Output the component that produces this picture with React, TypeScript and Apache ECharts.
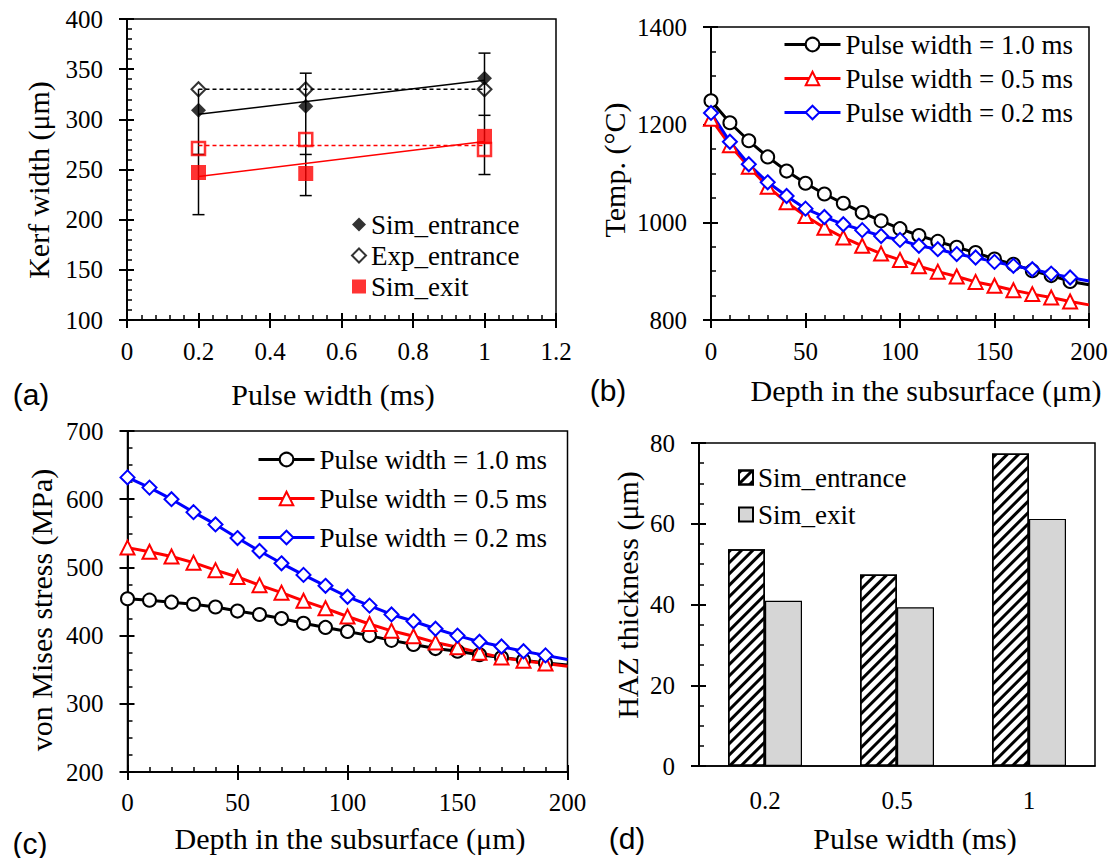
import React, { useEffect, useRef } from 'react';
import * as echarts from 'echarts';

// ---------- (a) Kerf width ----------
const pulseX = [0.2, 0.5, 1];
const simEntrance = [309, 313, 341];
const expEntrance = [330, 330, 330];
const simExit = [247, 246, 283];
const expExit = [271, 280, 270];
const fitX = [0.2, 1];
const simEntranceFit = [305, 339];
const expEntranceFit = [330, 330];
const simExitFit = [243, 278];
const expExitFit = [274, 274];
const errLow = [205, 224, 245];
const errHigh = [330, 346, 366];
const errCapX = [0.2, 0.2, 0.5, 0.5, 0.5, 1, 1, 1];
const errCapY = [205, 265, 224, 265, 346, 245, 304, 366];

// ---------- (b) Temperature ----------
const depth = [0, 10, 20, 30, 40, 50, 60, 70, 80, 90, 100, 110, 120, 130, 140, 150, 160, 170, 180, 190, 200];
const temp10 = [1249, 1204, 1167, 1134, 1105, 1080, 1058, 1039, 1020, 1003, 987, 973, 961, 949, 938, 925, 914, 901, 891, 879, 872];
const temp05 = [1212, 1158, 1114, 1073, 1041, 1013, 989, 969, 952, 936, 923, 910, 899, 889, 878, 870, 861, 853, 846, 838, 831];
const temp02 = [1224, 1165, 1119, 1082, 1054, 1028, 1011, 996, 984, 972, 964, 952, 945, 935, 928, 919, 911, 904, 895, 887, 880];

// ---------- (c) von Mises stress ----------
const stress10 = [454, 452, 449, 446, 442, 436, 431, 425, 418, 412, 406, 400, 393, 387, 381, 377, 372, 368, 364, 360, 357];
const stress05 = [529, 523, 516, 507, 496, 486, 474, 463, 451, 440, 428, 417, 407, 399, 390, 383, 375, 368, 363, 359, 355];
const stress02 = [632, 617, 600, 581, 563, 543, 524, 506, 489, 473, 457, 444, 431, 421, 410, 400, 391, 384, 377, 371, 365];

// ---------- (d) HAZ thickness ----------
const hazCats = ['0.2', '0.5', '1'];
const hazEntrance = [53.7, 47.4, 77.4];
const hazExit = [40.9, 39.3, 61.2];

const legendNames = ['Pulse width = 1.0 ms', 'Pulse width = 0.5 ms', 'Pulse width = 0.2 ms'];

const SERIF = 'Liberation Serif';
const SANS = 'Liberation Sans';

// main axis: labels, axis line and outward major ticks
function mainAxis(gridIndex: number, min: number, max: number, interval: number, position: string, margin: number) {
  return {
    type: 'value', gridIndex, min, max, interval, position,
    axisLine: { show: true, onZero: false, lineStyle: { color: '#000', width: 1.5 } },
    axisTick: { show: true, inside: false, length: 8, lineStyle: { color: '#000', width: 2 } },
    minorTick: { show: false },
    splitLine: { show: false },
    axisLabel: { show: true, margin, color: '#000', fontFamily: SERIF, fontSize: 25, formatter: (v: number) => String(v) },
  };
}
// overlay axis on the same side: inward major + minor ticks only
function overlayAxis(gridIndex: number, min: number, max: number, interval: number, position: string, minorSplit: number) {
  return {
    type: 'value', gridIndex, min, max, interval, position, offset: 0,
    axisLine: { show: true, onZero: false, lineStyle: { color: '#000', width: 1.5 } },
    axisTick: { show: true, inside: true, length: 7, lineStyle: { color: '#000', width: 2 } },
    minorTick: { show: true, splitNumber: minorSplit, length: 5, lineStyle: { color: '#000', width: 1.5 } },
    splitLine: { show: false },
    minorSplitLine: { show: false },
    axisLabel: { show: false },
  };
}

function curve(vals: number[]) {
  return depth.map((d, i) => (i === depth.length - 1 ? { value: [d, vals[i]], symbol: 'none' } : [d, vals[i]]));
}

function lineSeries(name: string, vals: number[], color: string, symbol: string, size: number, xi: number, yi: number) {
  return {
    name, type: 'line', xAxisIndex: xi, yAxisIndex: yi,
    data: curve(vals), symbol, symbolSize: size, showAllSymbol: true,
    itemStyle: { color, borderWidth: 1.5 },
    lineStyle: { color, width: 3 },
    z: 3,
  };
}

function txt(text: string, x: number, y: number, size: number, family: string, rotation = 0) {
  return {
    type: 'text', x, y, rotation, silent: true,
    style: { text, font: `${size}px "${family}"`, fill: '#000', align: 'center', verticalAlign: 'middle' },
  };
}

const gridBox = { show: true, borderColor: '#000', borderWidth: 1.5, backgroundColor: 'transparent', containLabel: false };
const legendText = { fontFamily: SERIF, fontSize: 27, color: '#000' };

export default function App() {
  const ref = useRef<HTMLDivElement>(null);
  useEffect(() => {
    const chart = echarts.init(ref.current!, null, { renderer: 'svg' });
    const errLines = pulseX.map((x, i) => [x, errLow[i], errHigh[i]]);
    const errCaps = errCapX.map((x, i) => [x, errCapY[i]]);

    const option: any = {
      animation: false,
      grid: [
        { ...gridBox, left: 127, top: 19, width: 429, height: 301 },
        { ...gridBox, left: 711, top: 27, width: 378, height: 293 },
        { ...gridBox, left: 127.5, top: 431, width: 440, height: 341 },
        { ...gridBox, left: 699, top: 443, width: 396, height: 323 },
      ],
      xAxis: [
        mainAxis(0, 0, 1.2, 0.2, 'bottom', 19),
        mainAxis(1, 0, 200, 50, 'bottom', 19),
        mainAxis(2, 0, 200, 50, 'bottom', 18),
        {
          type: 'category', gridIndex: 3, data: hazCats, position: 'bottom',
          axisLine: { show: true, onZero: false, lineStyle: { color: '#000', width: 1.5 } },
          axisTick: { show: false },
          axisLabel: { margin: 22, color: '#000', fontFamily: SERIF, fontSize: 25 },
          splitLine: { show: false },
        },
        overlayAxis(0, 0, 1.2, 0.2, 'bottom', 5),
        overlayAxis(1, 0, 200, 50, 'bottom', 5),
        overlayAxis(2, 0, 200, 50, 'bottom', 5),
      ],
      yAxis: [
        mainAxis(0, 100, 400, 50, 'left', 24),
        mainAxis(1, 800, 1400, 200, 'left', 24),
        mainAxis(2, 200, 700, 100, 'left', 24),
        mainAxis(3, 0, 80, 20, 'left', 24),
        overlayAxis(0, 100, 400, 50, 'left', 5),
        overlayAxis(1, 800, 1400, 200, 'left', 4),
        overlayAxis(2, 200, 700, 100, 'left', 4),
        overlayAxis(3, 0, 80, 20, 'left', 4),
      ],
      legend: [
        {
          data: ['Sim_entrance', 'Exp_entrance', 'Sim_exit'], orient: 'vertical', left: 351, top: 211, padding: 0,
          itemWidth: 14, itemHeight: 14, itemGap: 4, selectedMode: false, textStyle: legendText,
        },
        {
          data: legendNames, orient: 'vertical', left: 783, top: 31, padding: 0,
          itemWidth: 56, itemHeight: 17, itemGap: 7, selectedMode: false, textStyle: legendText,
          lineStyle: { width: 3 },
        },
        {
          data: legendNames.map((n) => n + ' '), orient: 'vertical', left: 257, top: 446, padding: 0,
          itemWidth: 56, itemHeight: 17, itemGap: 12, selectedMode: false, textStyle: legendText,
          lineStyle: { width: 3 },
        },
        {
          data: ['HAZ_Sim_entrance', 'HAZ_Sim_exit'], orient: 'vertical', left: 738, top: 464, padding: 0,
          itemWidth: 14, itemHeight: 14, itemGap: 10, selectedMode: false, icon: 'rect',
          formatter: (n: string) => n.replace('HAZ_', ''), textStyle: legendText,
        },
      ],
      series: [
        // ---- (a)
        {
          type: 'custom', xAxisIndex: 0, yAxisIndex: 0, data: errLines, silent: true, z: 1,
          renderItem: (p: any, api: any) => {
            const a = api.coord([api.value(0), api.value(1)]);
            const b = api.coord([api.value(0), api.value(2)]);
            return { type: 'line', shape: { x1: a[0], y1: a[1], x2: b[0], y2: b[1] }, style: { stroke: '#000', lineWidth: 1.5 } };
          },
        },
        {
          type: 'custom', xAxisIndex: 0, yAxisIndex: 0, data: errCaps, silent: true, z: 1,
          renderItem: (p: any, api: any) => {
            const a = api.coord([api.value(0), api.value(1)]);
            return { type: 'line', shape: { x1: a[0] - 6, y1: a[1], x2: a[0] + 6, y2: a[1] }, style: { stroke: '#000', lineWidth: 1.5 } };
          },
        },
        { type: 'line', xAxisIndex: 0, yAxisIndex: 0, symbol: 'none', silent: true, z: 2, data: fitX.map((x, i) => [x, simEntranceFit[i]]), lineStyle: { color: '#000', width: 1.5 } },
        { type: 'line', xAxisIndex: 0, yAxisIndex: 0, symbol: 'none', silent: true, z: 2, data: fitX.map((x, i) => [x, expEntranceFit[i]]), lineStyle: { color: '#000', width: 1.5, type: [4, 3] } },
        { type: 'line', xAxisIndex: 0, yAxisIndex: 0, symbol: 'none', silent: true, z: 2, data: fitX.map((x, i) => [x, simExitFit[i]]), lineStyle: { color: '#ff0000', width: 1.5 } },
        { type: 'line', xAxisIndex: 0, yAxisIndex: 0, symbol: 'none', silent: true, z: 2, data: fitX.map((x, i) => [x, expExitFit[i]]), lineStyle: { color: '#ff0000', width: 1.5, type: [4, 3] } },
        { name: 'Sim_entrance', type: 'scatter', xAxisIndex: 0, yAxisIndex: 0, z: 3, symbol: 'diamond', symbolSize: 15, data: pulseX.map((x, i) => [x, simEntrance[i]]), itemStyle: { color: '#000' } },
        { name: 'Exp_entrance', type: 'scatter', xAxisIndex: 0, yAxisIndex: 0, z: 3, symbol: 'diamond', symbolSize: 14, data: pulseX.map((x, i) => [x, expEntrance[i]]), itemStyle: { color: 'rgba(255,255,255,0)', borderColor: '#000', borderWidth: 2 } },
        { name: 'Sim_exit', type: 'scatter', xAxisIndex: 0, yAxisIndex: 0, z: 3, symbol: 'rect', symbolSize: 15, data: pulseX.map((x, i) => [x, simExit[i]]), itemStyle: { color: '#ff0000' } },
        { name: 'Exp_exit', type: 'scatter', xAxisIndex: 0, yAxisIndex: 0, z: 3, symbol: 'rect', symbolSize: 13, data: pulseX.map((x, i) => [x, expExit[i]]), itemStyle: { color: 'rgba(255,255,255,0)', borderColor: '#ff0000', borderWidth: 2.5 } },
        // ---- (b)
        lineSeries(legendNames[0], temp10, '#000000', 'emptyCircle', 13, 1, 1),
        lineSeries(legendNames[1], temp05, '#ff0000', 'emptyTriangle', 14, 1, 1),
        lineSeries(legendNames[2], temp02, '#0000ff', 'emptyDiamond', 14, 1, 1),
        // ---- (c)
        lineSeries(legendNames[0] + ' ', stress10, '#000000', 'emptyCircle', 13, 2, 2),
        lineSeries(legendNames[1] + ' ', stress05, '#ff0000', 'emptyTriangle', 14, 2, 2),
        lineSeries(legendNames[2] + ' ', stress02, '#0000ff', 'emptyDiamond', 14, 2, 2),
        // ---- (d)
        {
          name: 'HAZ_Sim_entrance', type: 'bar', xAxisIndex: 3, yAxisIndex: 3, data: hazEntrance, barWidth: 37, barGap: '0%',
          itemStyle: {
            color: '#ffffff', borderColor: '#000', borderWidth: 1.5,
            decal: { symbol: 'rect', symbolSize: 1, color: '#000', backgroundColor: '#fff', dashArrayX: [1, 0], dashArrayY: [3, 5], rotation: -Math.PI / 4 },
          },
        },
        {
          name: 'HAZ_Sim_exit', type: 'bar', xAxisIndex: 3, yAxisIndex: 3, data: hazExit, barWidth: 37, barGap: '0%',
          itemStyle: { color: '#d6d6d6', borderColor: '#000', borderWidth: 1.2 },
        },
      ],
      graphic: [
        txt('Kerf width (μm)', 38, 180, 30, SERIF, Math.PI / 2),
        txt('Temp. (°C)', 614, 170, 30, SERIF, Math.PI / 2),
        txt('von Mises stress (MPa)', 41, 610, 30, SERIF, Math.PI / 2),
        txt('HAZ thickness (μm)', 627, 595, 30, SERIF, Math.PI / 2),
        txt('Pulse width (ms)', 333, 394, 30, SERIF),
        txt('Depth in the subsurface (μm)', 926, 390, 30, SERIF),
        txt('Depth in the subsurface (μm)', 350, 838, 30, SERIF),
        txt('Pulse width (ms)', 915, 838, 30, SERIF),
        txt('(a)', 31, 394, 30, SANS),
        txt('(b)', 608, 390, 30, SANS),
        txt('(c)', 30, 843, 30, SANS),
        txt('(d)', 627, 838, 30, SANS),
      ],
    };
    chart.setOption(option);
    return () => chart.dispose();
  }, []);
  return <div ref={ref} style={{ position: 'absolute', left: 0, top: 0, width: 1112, height: 858, background: '#fff' }} />;
}
